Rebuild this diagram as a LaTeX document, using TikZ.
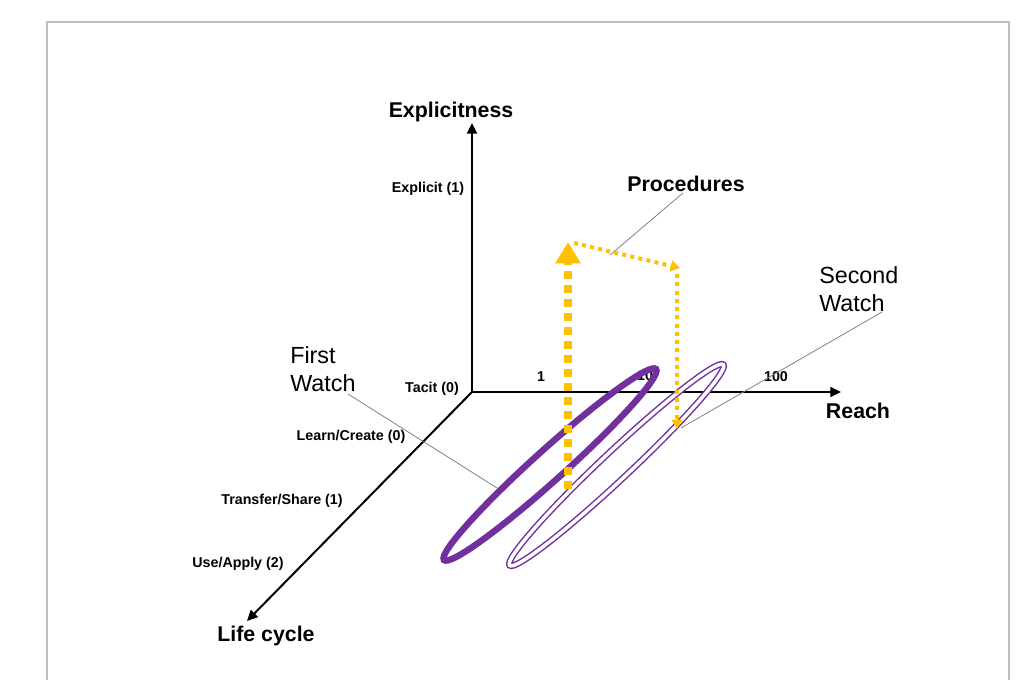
\documentclass[tikz,border=0pt]{standalone}
\usepackage{fontspec}
\setmainfont{Liberation Sans}
\usetikzlibrary{arrows.meta}
\definecolor{wpurple}{HTML}{7030A0}
\definecolor{wgold}{HTML}{FFC000}
\definecolor{framegray}{HTML}{BFBFBF}
\begin{document}
\begin{tikzpicture}[x=0.75pt,y=-0.75pt,
  axis/.style={line width=1.5pt,-{Triangle[length=8pt,width=7.5pt]}},
  axtitle/.style={font=\fontsize{16}{18}\selectfont\bfseries,inner sep=0pt},
  ticklab/.style={font=\fontsize{10.7}{12}\selectfont\bfseries,inner sep=0pt},
  callout/.style={font=\fontsize{17.5}{21}\selectfont,inner sep=0pt,align=left},
  leader/.style={draw=gray,line width=0.6pt},
  bigdash/.style={wgold,line width=6pt,dash pattern=on 6pt off 4.5pt},
  smalldot/.style={wgold,line width=3pt,dash pattern=on 3pt off 3.2pt},
  thickell/.style={draw=wpurple,line width=4.8pt},
  doubleell/.style={draw=wpurple,line width=1.1pt,double=white,double distance=2.6pt}]
\useasboundingbox (0,0) rectangle (1025,680);
% frame
\draw[framegray,line width=1.5pt] (47,681) -- (47,22) -- (1009,22) -- (1009,681);
% axes
\coordinate (O) at (472,392);
\coordinate (Ytop) at (472,123);
\coordinate (Xend) at (841,392);
\coordinate (Zend) at (247,621);
\draw[axis] (O) -- (Ytop);
\draw[axis] (O) -- (Xend);
\draw[axis] (O) -- (Zend);
% axis titles
\node[axtitle] (explicitness) at (451,112) {Explicitness};
\node[axtitle] (reach) at (858,411) {Reach};
\node[axtitle] (lifecycle) at (266,636) {Life cycle};
\node[axtitle] (procedures) at (686,184) {Procedures};
% tick labels
\node[ticklab] (explicit) at (428,189) {Explicit (1)};
\node[ticklab] (tacit) at (432,389) {Tacit (0)};
\node[ticklab] (one) at (541,377) {1};
\node[ticklab] (ten) at (645,376) {10};
\node[ticklab] (hundred) at (776,377) {100};
\node[ticklab] (learn) at (351,437) {Learn/Create (0)};
\node[ticklab] (transfer) at (282,501) {Transfer/Share (1)};
\node[ticklab] (use) at (238,564) {Use/Apply (2)};
% callout texts
\node[callout,anchor=north west] (first) at (290,346) {First\\Watch};
\node[callout,anchor=north west] (second) at (819,266) {Second\\Watch};
% leader lines
\coordinate (procpt) at (610,255);
\coordinate (firstpt) at (497,488);
\coordinate (secondpt) at (681,428);
\draw[leader] (683,193) -- (procpt);
\draw[leader] (348,394) -- (firstpt);
\draw[leader] (882,312) -- (secondpt);
% ellipses
\draw[thickell] (550,464.5) ellipse [x radius=107pt,y radius=11.5pt,rotate=42];
\draw[doubleell] (616.5,465) ellipse [x radius=110pt,y radius=10.5pt,rotate=43.2];
% yellow arrows
\coordinate (A0) at (568,489);
\coordinate (A1) at (568,242);
\coordinate (B1) at (680,268);
\coordinate (C1) at (677,429);
\draw[bigdash,-{Triangle[length=16pt,width=18pt,sep=0pt]}] (A0) -- (A1);
\draw[smalldot,-{Triangle[length=7pt,width=8pt]}] (A1) ++(6,1) -- (B1);
\draw[smalldot,-{Triangle[length=7pt,width=8pt]}] (677,274) -- (C1);
\end{tikzpicture}
\end{document}
